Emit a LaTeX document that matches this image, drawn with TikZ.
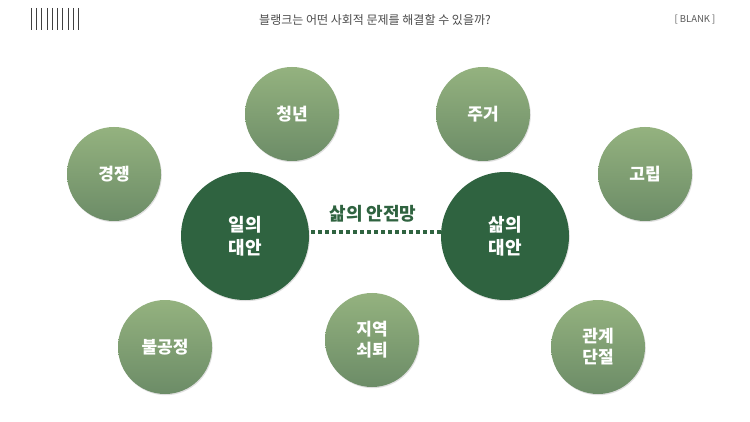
\documentclass[tikz,border=0pt]{standalone}
\usepackage{fontspec}
\setmainfont{Noto Sans CJK KR}
\usetikzlibrary{shadows}
\definecolor{darkg}{HTML}{2F6340}
\definecolor{topg}{HTML}{94B27F}
\definecolor{botg}{HTML}{6C8C67}
\tikzset{
  small/.style={circle,minimum size=94pt,inner sep=0pt,top color=topg,bottom color=botg,
    draw=none,text=white,font=\bfseries\fontsize{17}{21}\selectfont,align=center,
    drop shadow={shadow xshift=0.8pt,shadow yshift=-1.2pt,opacity=0.25}},
  big/.style={circle,minimum size=128pt,inner sep=0pt,fill=darkg,draw=none,text=white,
    font=\bfseries\fontsize{18}{23}\selectfont,align=center,
    drop shadow={shadow xshift=0.8pt,shadow yshift=-1.2pt,opacity=0.25}},
}
\begin{document}
\begin{tikzpicture}[x=1pt,y=-1pt]
\useasboundingbox (0,0) rectangle (750,422);
\fill[white] (0,0) rectangle (750,422);
% header lines
\foreach \i in {0,...,9} {\draw[line width=0.7pt,black!75] (31+\i*5.3,8) -- (31+\i*5.3,30);}
\node[font=\fontsize{12}{14}\selectfont,text=black!70] (title) at (375,20) {블랭크는 어떤 사회적 문제를 해결할 수 있을까?};
\node[font=\fontsize{9.5}{11}\selectfont,text=black!65] (blank) at (695,20) {[ BLANK ]};
% circles
\node[small] (c1) at (292,114) {청년};
\node[small] (c2) at (483,114) {주거};
\node[small] (c3) at (114,174) {경쟁};
\node[small] (c4) at (645,174) {고립};
\node[small] (c5) at (165,347) {불공정};
\node[small] (c6) at (372,340) {지역\\쇠퇴};
\node[small] (c7) at (598,347) {관계\\단절};
\node[big] (w) at (245,236) {일의\\대안};
\node[big] (l) at (505,236) {삶의\\대안};
\draw[darkg,line width=3.6pt,dash pattern=on 3.6pt off 3.4pt] (w.east |- 0,232) ++(2,0) coordinate (a) -- (l.west |- 0,232);
\node[text=darkg,font=\bfseries\fontsize{18}{22}\selectfont] (lab) at (373,214) {삶의 안전망};
\end{tikzpicture}
\end{document}
